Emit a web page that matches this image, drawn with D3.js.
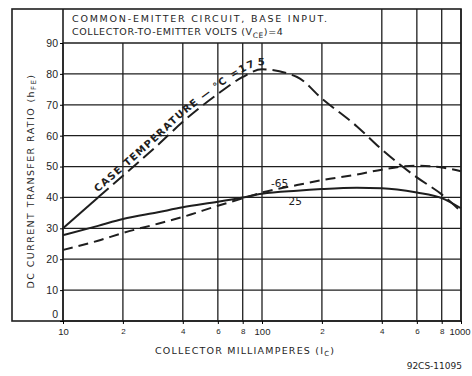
<!DOCTYPE html>
<html>
<head>
<meta charset="utf-8">
<script src="https://cdn.jsdelivr.net/npm/d3@7"></script>
<style>
  body { margin: 0; background: #fff; }
  svg { display: block; font-family: "DejaVu Sans", sans-serif; }
</style>
</head>
<body>
<script>
const svgW = 472;
const svgH = 376;
const ink = '#1e1e1e';

// data
const collectorMA = [10, 15, 20, 30, 40, 60, 80, 100, 150, 200, 300, 400, 600, 800, 1000];
const hfe175 = [30, 40, 47, 57, 64.5, 73.5, 79, 81.5, 79, 72, 63, 55.5, 46.5, 41, 35.5];
const hfe65 = [23, 26, 28.5, 31.5, 33.7, 37.3, 39.7, 41.6, 44, 45.6, 47.4, 49, 50.3, 49.7, 48.5];
const hfe25 = [27.8, 30.8, 33, 35.2, 36.8, 38.6, 40, 41.2, 42.2, 42.7, 43.1, 43, 41.6, 39.8, 36.5];

const xTickValues = [10, 20, 40, 60, 80, 100, 200, 400, 600, 800, 1000];
const xTickLabels = ['10', '2', '4', '6', '8', '100', '2', '4', '6', '8', '1000'];
const yTickValues = [0, 10, 20, 30, 40, 50, 60, 70, 80, 90];
const headerLines = ['COMMON-EMITTER CIRCUIT, BASE INPUT.', 'COLLECTOR-TO-EMITTER VOLTS (V'];

const svg = d3.select('body')
  .append('svg')
  .attr('width', svgW)
  .attr('height', svgH);

const x = d3.scaleLog().domain([10, 1000]).range([63, 461]);
const y = d3.scaleLinear().domain([0, 90]).range([321, 43]);
const frameTop = 9;

// grid
const grid = svg.append('g').attr('stroke', ink).attr('stroke-width', 1.3);
grid.selectAll('.vg')
  .data(xTickValues)
  .enter()
  .append('line')
  .attr('x1', d => x(d)).attr('x2', d => x(d))
  .attr('y1', d => (d >= 400 ? frameTop : y(90)))
  .attr('y2', y(0));
grid.selectAll('.hg')
  .data(yTickValues)
  .enter()
  .append('line')
  .attr('x1', x(10)).attr('x2', x(1000))
  .attr('y1', d => y(d)).attr('y2', d => y(d));

// outer frame + left edge of plot
svg.append('rect')
  .attr('x', 12).attr('y', frameTop)
  .attr('width', x(1000) - 12).attr('height', y(0) - frameTop)
  .attr('fill', 'none').attr('stroke', ink).attr('stroke-width', 1.6);
svg.append('line')
  .attr('x1', x(10)).attr('x2', x(10))
  .attr('y1', frameTop).attr('y2', y(0))
  .attr('stroke', ink).attr('stroke-width', 1.6);

// y axis
const yAxis = d3.axisLeft(y).tickValues(yTickValues).tickSize(3).tickPadding(2);
const gy = svg.append('g').attr('transform', `translate(${x(10)},0)`).call(yAxis);
gy.select('.domain').remove();
gy.selectAll('text').attr('font-size', 10.5).attr('fill', ink);
gy.selectAll('.tick').filter(d => d === 0).select('text').attr('dy', '-0.3em');

// x axis
const xAxis = d3.axisBottom(x).tickValues(xTickValues).tickSize(3).tickPadding(4)
  .tickFormat((d, i) => xTickLabels[i]);
const gx = svg.append('g').attr('transform', `translate(0,${y(0)})`).call(xAxis);
gx.select('.domain').remove();
gx.selectAll('text')
  .attr('fill', ink)
  .attr('font-size', d => ([10, 100, 1000].includes(d) ? 9.5 : 8));
gx.selectAll('.tick').filter(d => d === 1000).select('text')
  .attr('text-anchor', 'start').attr('dx', -12);

// curves
const line = d3.line()
  .x(d => x(d[0]))
  .y(d => y(d[1]))
  .curve(d3.curveMonotoneX);

const pts175 = collectorMA.map((c, i) => [c, hfe175[i]]);
const pts65 = collectorMA.map((c, i) => [c, hfe65[i]]);
const pts25 = collectorMA.map((c, i) => [c, hfe25[i]]);

svg.append('path')
  .attr('d', line(pts25))
  .attr('fill', 'none').attr('stroke', ink).attr('stroke-width', 2);
svg.append('path')
  .attr('d', line(pts65))
  .attr('fill', 'none').attr('stroke', ink).attr('stroke-width', 2)
  .attr('stroke-dasharray', '10,6');
svg.append('path')
  .attr('d', line(pts175.slice(0, 2)))
  .attr('fill', 'none').attr('stroke', ink).attr('stroke-width', 2);
svg.append('path')
  .attr('id', 'c175')
  .attr('d', line(pts175.slice(1)))
  .attr('fill', 'none').attr('stroke', ink).attr('stroke-width', 2)
  .attr('stroke-dasharray', '14,6');

// label along 175 curve
svg.append('text')
  .attr('font-size', 10).attr('font-weight', 'bold').attr('fill', ink)
  .attr('letter-spacing', 1.3)
  .attr('dy', -4)
  .append('textPath')
  .attr('href', '#c175')
  .attr('startOffset', 3)
  .text('CASE  TEMPERATURE \u2014 \u00B0C =175');

// curve labels
svg.append('text')
  .attr('x', x(111)).attr('y', y(43.5))
  .attr('font-size', 10.5).attr('fill', ink)
  .text('-65');
svg.append('text')
  .attr('x', x(136)).attr('y', y(37.5))
  .attr('font-size', 10.5).attr('fill', ink)
  .text('25');

// header
const hdr = svg.append('g').attr('fill', ink).attr('font-size', 9.5);
hdr.append('text')
  .attr('x', 72).attr('y', 22)
  .attr('textLength', 255).attr('lengthAdjust', 'spacing')
  .text(headerLines[0]);
const h2 = hdr.append('text').attr('x', 72).attr('y', 35).attr('letter-spacing', 0.6);
h2.append('tspan').text(headerLines[1]);
h2.append('tspan').attr('font-size', 7.5).attr('dy', 3).text('CE');
h2.append('tspan').attr('dy', -3).text(')=4');

// axis titles
const xt = svg.append('text')
  .attr('x', 155).attr('y', 354)
  .attr('font-size', 9.5).attr('fill', ink)
  .attr('letter-spacing', 1.2);
xt.append('tspan').text('COLLECTOR MILLIAMPERES (I');
xt.append('tspan').attr('font-size', 7).attr('dy', 2).text('C');
xt.append('tspan').attr('dy', -2).text(')');

const yt = svg.append('text')
  .attr('transform', 'translate(34,181) rotate(-90)')
  .attr('text-anchor', 'middle')
  .attr('font-size', 9.5).attr('fill', ink)
  .attr('letter-spacing', 1.4);
yt.append('tspan').text('DC CURRENT TRANSFER RATIO (h');
yt.append('tspan').attr('font-size', 7).attr('dy', 2).text('FE');
yt.append('tspan').attr('dy', -2).text(')');

svg.append('text')
  .attr('x', 462).attr('y', 369)
  .attr('text-anchor', 'end')
  .attr('font-size', 9).attr('fill', ink)
  .text('92CS-11095');
</script>
</body>
</html>
